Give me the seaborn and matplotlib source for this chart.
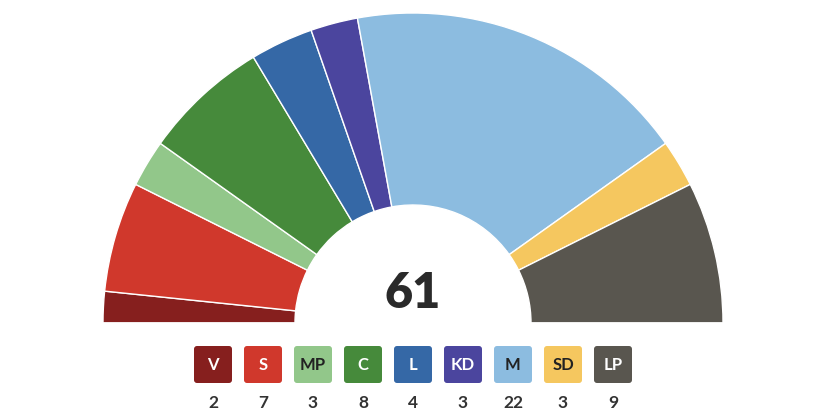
import matplotlib
matplotlib.use("Agg")
import matplotlib.pyplot as plt
from matplotlib.patches import FancyBboxPatch
import seaborn as sns

# Seat data
parties = ["V", "S", "MP", "C", "L", "KD", "M", "SD", "LP"]
seats = [2, 7, 3, 8, 4, 3, 22, 3, 9]
colors = ["#861f1e", "#d0382c", "#92c78a", "#468a3b", "#3568a6",
          "#4b459e", "#8cbce0", "#f5c75f", "#59564f"]
label_colors = ["white", "white", "#222222", "white", "white",
                "white", "#222222", "#222222", "white"]
total = sum(seats)

sns.set_theme(style="white")
plt.rcParams["font.family"] = ["Lato", "DejaVu Sans"]

fig = plt.figure(figsize=(8.4, 4.2), dpi=100)
ax = fig.add_axes([0, 0, 1, 1])

# Half donut: append an invisible wedge for the bottom half
ax.pie(seats + [total], colors=colors + ["none"], startangle=180,
       counterclock=False, radius=310, center=(413, 97), frame=True,
       wedgeprops=dict(width=192, edgecolor="white", linewidth=1.0))
ax.set_xlim(0, 840)
ax.set_ylim(0, 420)
ax.set_aspect("equal")
ax.axis("off")

ax.text(413, 127, str(total), ha="center", va="center", fontsize=35,
        fontweight="heavy", color="#2a2a2a")

# Legend boxes
for i, (p, n) in enumerate(zip(parties, seats)):
    x0 = 194 + i * 50
    box = FancyBboxPatch((x0, 37), 38, 37,
                         boxstyle="round,pad=0,rounding_size=3",
                         facecolor=colors[i], edgecolor="none")
    ax.add_patch(box)
    ax.text(x0 + 19, 55.5, p, ha="center", va="center", fontsize=12,
            fontweight="bold", color=label_colors[i])
    ax.text(x0 + 19, 17, str(n), ha="center", va="center", fontsize=12.5,
            fontweight="bold", color="#333333")

fig.savefig("out.png", dpi=100)
